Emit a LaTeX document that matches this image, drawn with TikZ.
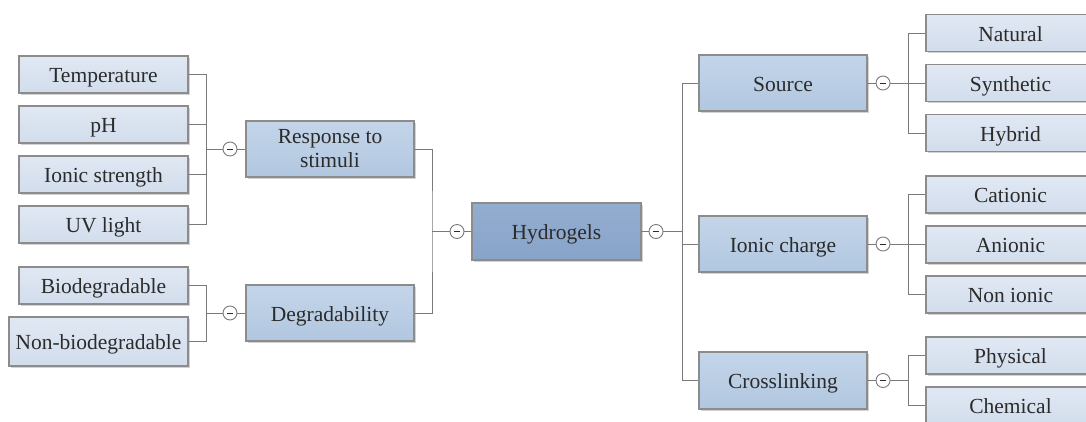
\documentclass[tikz,border=0pt]{standalone}
\usepackage{fontspec}
\setmainfont{Liberation Serif}
\usetikzlibrary{shadows}

\begin{document}
\begin{tikzpicture}[x=1pt, y=-1pt]
    % Colours
    \definecolor{borderColour}{HTML}{8C8C8C}
    \definecolor{lineColour}{HTML}{7A7A7A}
    \definecolor{textColour}{HTML}{2B2B2B}
    \definecolor{leafTop}{HTML}{E0E8F3}
    \definecolor{leafBottom}{HTML}{D2DDEC}
    \definecolor{branchTop}{HTML}{C4D5E9}
    \definecolor{branchBottom}{HTML}{B1C7E0}
    \definecolor{rootTop}{HTML}{93ADCF}
    \definecolor{rootBottom}{HTML}{88A4C9}

    \tikzset{
        box/.style={draw=borderColour, line width=1.2pt, text=textColour, inner sep=2pt,
            font=\fontsize{21.5}{24}\selectfont, text height=17pt, text depth=1pt,
            drop shadow={shadow xshift=1.5pt, shadow yshift=-1.5pt, opacity=0.35}},
        leafbox/.style={box, top color=leafTop, bottom color=leafBottom, minimum width=169pt, minimum height=37pt},
        branchbox/.style={box, top color=branchTop, bottom color=branchBottom, minimum width=168pt, minimum height=56pt},
        rootbox/.style={box, top color=rootTop, bottom color=rootBottom, minimum width=169pt, minimum height=57pt},
        toggle/.style={circle, draw=lineColour, fill=white, line width=0.9pt, minimum size=14pt, inner sep=0pt,
            path picture={\draw[textColour, line width=1pt]
                ([xshift=-3pt]path picture bounding box.center) -- ([xshift=3pt]path picture bounding box.center);}},
        link/.style={draw=lineColour, line width=1pt}
    }

    % Fix the picture size
    \useasboundingbox (0,0) rectangle (1086,421);

    % Root
    \node[rootbox] (hydro) at (556.5,231.5) {Hydrogels};

    % Left branches
    \node[branchbox, align=center, text height=, text depth=] (resp) at (330,149) {Response to\\stimuli};
    \node[branchbox] (degr) at (330,313) {Degradability};

    % Right branches
    \node[branchbox] (source) at (783,83) {Source};
    \node[branchbox] (ionic) at (783,244) {Ionic charge};
    \node[branchbox, minimum height=57pt] (cross) at (783,380.5) {Crosslinking};

    % Left leaves
    \node[leafbox] (temp) at (103.5,74.5) {Temperature};
    \node[leafbox] (ph) at (103.5,124.5) {pH};
    \node[leafbox] (ionstr) at (103.5,174.5) {Ionic strength};
    \node[leafbox] (uv) at (103.5,224.5) {UV light};
    \node[leafbox] (bio) at (103.5,285.5) {Biodegradable};
    \node[leafbox, minimum width=179pt, minimum height=49pt] (nonbio) at (98.5,341.5) {Non-biodegradable};

    % Right leaves
    \node[leafbox] (natural) at (1010.5,33) {Natural};
    \node[leafbox] (synthetic) at (1010.5,83) {Synthetic};
    \node[leafbox] (hybrid) at (1010.5,133) {Hybrid};
    \node[leafbox] (cationic) at (1010.5,194.5) {Cationic};
    \node[leafbox] (anionic) at (1010.5,244.5) {Anionic};
    \node[leafbox] (nonionic) at (1010.5,294.5) {Non ionic};
    \node[leafbox] (physical) at (1010.5,355.5) {Physical};
    \node[leafbox] (chemical) at (1010.5,405.5) {Chemical};

    % Collapse toggles
    \node[toggle] (tResp) at (230,149) {};
    \node[toggle] (tDegr) at (230,313) {};
    \node[toggle] (tHydroL) at (457,231.5) {};
    \node[toggle] (tHydroR) at (656,231.5) {};
    \node[toggle] (tSource) at (883,83) {};
    \node[toggle] (tIonic) at (883,244) {};
    \node[toggle] (tCross) at (883,380.5) {};

    % Bus joints
    \coordinate (busResp) at (206,149);
    \coordinate (busDegr) at (206,313);
    \coordinate (busLeft) at (432,231.5);
    \coordinate (busRight) at (682,231.5);
    \coordinate (busSource) at (908,83);
    \coordinate (busIonic) at (908,244);
    \coordinate (busCross) at (908,380.5);

    % Left side connectors
    \foreach \n in {temp,ph,ionstr,uv}
        \draw[link] (\n.east) -| (busResp);
    \draw[link] (busResp) -- (tResp) -- (resp);
    \foreach \n in {bio,nonbio}
        \draw[link] (\n.east) -| (busDegr);
    \draw[link] (busDegr) -- (tDegr) -- (degr);
    \draw[link] (resp.east) -| (busLeft) |- (degr.east);
    \draw[link] (busLeft) -- (tHydroL) -- (hydro);

    % Right side connectors
    \draw[link] (hydro) -- (tHydroR) -- (busRight);
    \foreach \n in {source,ionic,cross}
        \draw[link] (busRight) |- (\n.west);
    \draw[link] (source) -- (tSource) -- (busSource);
    \foreach \n in {natural,synthetic,hybrid}
        \draw[link] (busSource) |- (\n.west);
    \draw[link] (ionic) -- (tIonic) -- (busIonic);
    \foreach \n in {cationic,anionic,nonionic}
        \draw[link] (busIonic) |- (\n.west);
    \draw[link] (cross) -- (tCross) -- (busCross);
    \foreach \n in {physical,chemical}
        \draw[link] (busCross) |- (\n.west);

\end{tikzpicture}
\end{document}
